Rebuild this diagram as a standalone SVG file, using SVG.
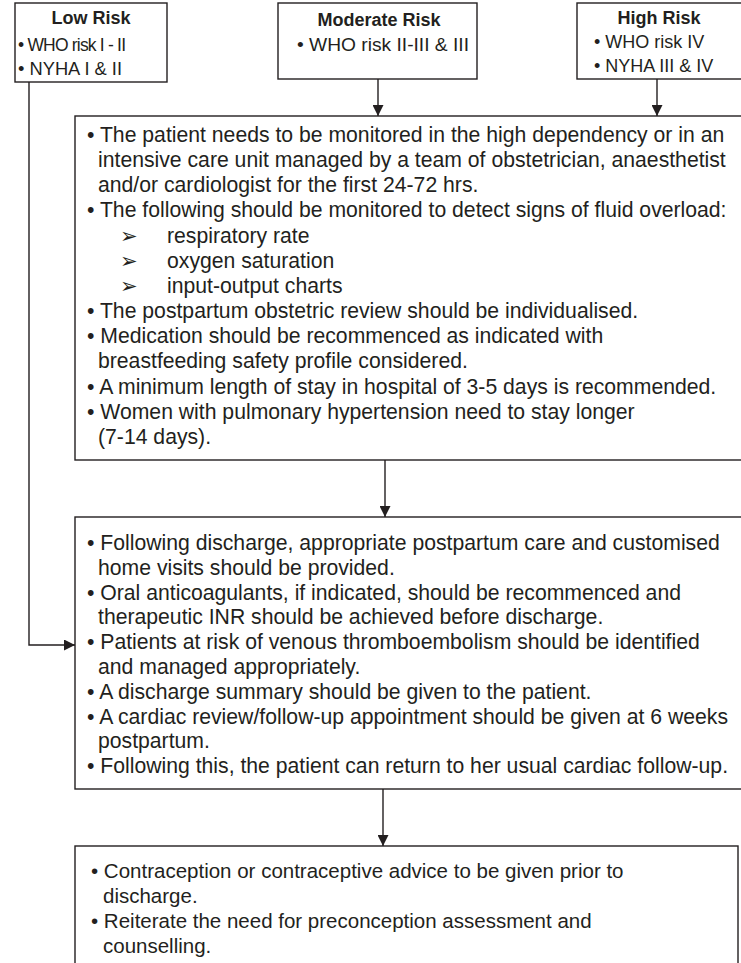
<svg xmlns="http://www.w3.org/2000/svg" width="741" height="963" viewBox="0 0 741 963">
<style>
.box{fill:#fff;stroke:#231f20;stroke-width:1.4}
.t{font-family:"Liberation Sans",Arial,sans-serif;font-size:21.2px;fill:#231f20}
.n{font-family:"Liberation Sans",Arial,sans-serif;font-size:20.5px;fill:#231f20}
.s{font-family:"Liberation Sans",Arial,sans-serif;font-size:18px;fill:#231f20}
.h{font-family:"Liberation Sans",Arial,sans-serif;font-size:18px;font-weight:bold;fill:#231f20}
.c{fill:none;stroke:#231f20;stroke-width:1.4}
</style>
<defs>
<marker id="ah" viewBox="0 0 10 10" refX="10" refY="5" markerWidth="11" markerHeight="11" markerUnits="userSpaceOnUse" orient="auto">
<path d="M0,0 L10,5 L0,10 Z" fill="#231f20"/>
</marker>
</defs>
<rect width="741" height="963" fill="#fff"/>
<g id="connectors">
<path class="c" d="M378,79 V116" marker-end="url(#ah)"/>
<path class="c" d="M657,79 V116" marker-end="url(#ah)"/>
<path class="c" d="M385,460 V517" marker-end="url(#ah)"/>
<path class="c" d="M383,789 V846" marker-end="url(#ah)"/>
<path class="c" d="M29,82 V645 H75" marker-end="url(#ah)"/>
</g>
<g id="low">
<rect class="box" x="15" y="3" width="152" height="79"/>
<text class="h" x="91" y="24" text-anchor="middle">Low Risk</text>
<text class="s" x="18" y="51" style="font-size:17.5px" textLength="108" lengthAdjust="spacing">• WHO risk I - II</text>
<text class="s" x="18" y="75" textLength="104" lengthAdjust="spacingAndGlyphs">• NYHA I &amp; II</text>
</g>
<g id="moderate">
<rect class="box" x="278" y="3" width="199" height="76"/>
<text class="h" x="379" y="26" text-anchor="middle">Moderate Risk</text>
<text class="s" x="297" y="51" textLength="172" lengthAdjust="spacingAndGlyphs">• WHO risk II-III &amp; III</text>
</g>
<g id="high">
<rect class="box" x="577" y="3" width="165" height="76"/>
<text class="h" x="659" y="24" text-anchor="middle">High Risk</text>
<text class="s" x="594" y="48">• WHO risk IV</text>
<text class="s" x="594" y="72">• NYHA III &amp; IV</text>
</g>
<g id="inpatient">
<rect class="box" x="75" y="116" width="680" height="344"/>
<text class="t" x="87" y="142">• The patient needs to be monitored in the high dependency or in an</text>
<text class="t" x="98" y="167">intensive care unit managed by a team of obstetrician, anaesthetist</text>
<text class="t" x="98" y="192">and/or cardiologist for the first 24-72 hrs.</text>
<text class="t" x="87" y="217">• The following should be monitored to detect signs of fluid overload:</text>
<text class="t" x="120" y="243">➢</text><text class="t" x="167" y="243">respiratory rate</text>
<text class="t" x="120" y="268">➢</text><text class="t" x="167" y="268">oxygen saturation</text>
<text class="t" x="120" y="293">➢</text><text class="t" x="167" y="293">input-output charts</text>
<text class="t" x="87" y="318">• The postpartum obstetric review should be individualised.</text>
<text class="t" x="87" y="343">• Medication should be recommenced as indicated with</text>
<text class="t" x="98" y="368">breastfeeding safety profile considered.</text>
<text class="t" x="87" y="394">• A minimum length of stay in hospital of 3-5 days is recommended.</text>
<text class="t" x="87" y="419">• Women with pulmonary hypertension need to stay longer</text>
<text class="t" x="98" y="444">(7-14 days).</text>
</g>
<g id="discharge">
<rect class="box" x="75" y="517" width="680" height="272"/>
<text class="t" x="87" y="550">• Following discharge, appropriate postpartum care and customised</text>
<text class="t" x="98" y="575">home visits should be provided.</text>
<text class="t" x="87" y="600">• Oral anticoagulants, if indicated, should be recommenced and</text>
<text class="t" x="98" y="624">therapeutic INR should be achieved before discharge.</text>
<text class="t" x="87" y="649">• Patients at risk of venous thromboembolism should be identified</text>
<text class="t" x="98" y="674">and managed appropriately.</text>
<text class="t" x="87" y="699">• A discharge summary should be given to the patient.</text>
<text class="t" x="87" y="724">• A cardiac review/follow-up appointment should be given at 6 weeks</text>
<text class="t" x="98" y="748">postpartum.</text>
<text class="t" x="87" y="773">• Following this, the patient can return to her usual cardiac follow-up.</text>
</g>
<g id="contraception">
<rect class="box" x="75" y="846" width="663" height="130"/>
<text class="n" x="91" y="878">• Contraception or contraceptive advice to be given prior to</text>
<text class="n" x="103" y="903">discharge.</text>
<text class="n" x="91" y="928">• Reiterate the need for preconception assessment and</text>
<text class="n" x="103" y="953">counselling.</text>
</g>
</svg>
